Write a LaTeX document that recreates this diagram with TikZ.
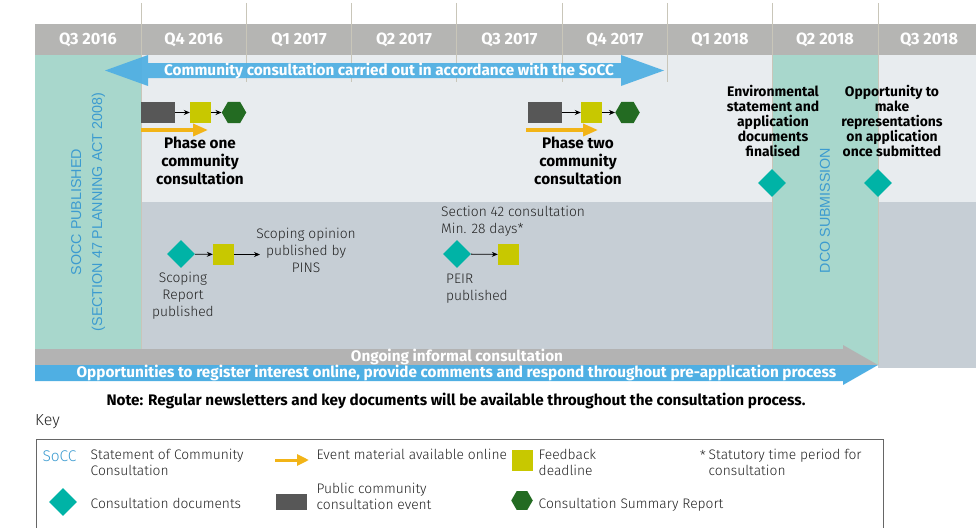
\documentclass[tikz,border=0pt]{standalone}
\usepackage{fontspec}
\setmainfont{Fira Sans}[UprightFont={* Light}, BoldFont={* Bold}]
\newfontfamily\rotfont{Liberation Sans}
\usetikzlibrary{shapes.geometric,arrows.meta}
\definecolor{hdr}{HTML}{B5B5B3}
\definecolor{topbg}{HTML}{E8ECEF}
\definecolor{lowbg}{HTML}{C6CED5}
\definecolor{tealbg}{HTML}{A8D7CC}
\definecolor{gridc}{HTML}{C9C6B9}
\definecolor{bluea}{HTML}{4FAFE3}
\definecolor{graya}{HTML}{B3B3B3}
\definecolor{evt}{HTML}{575757}
\definecolor{fbk}{HTML}{C8C800}
\definecolor{hexg}{HTML}{236B22}
\definecolor{diam}{HTML}{00B3A6}
\definecolor{yarr}{HTML}{F2B417}
\definecolor{rotblue}{HTML}{3C9BD0}
\definecolor{txt}{HTML}{222222}
\definecolor{keyb}{HTML}{666666}
\tikzset{
  hdrtxt/.style={text=white, font=\fontsize{16.3}{18}\selectfont\bfseries, inner sep=0},
  whitebold/.style={text=white, font=\fontsize{15.3}{16}\selectfont\bfseries, inner sep=0},
  boldtxt/.style={text=black, font=\fontsize{15.3}{18}\selectfont\bfseries, align=center, inner sep=0},
  boldtxtb/.style={text=black, font=\fontsize{13.9}{15.2}\selectfont\bfseries, align=center, inner sep=0},
  lighttxt/.style={text=txt, font=\fontsize{13.8}{17}\selectfont, inner sep=0},
  keytxt/.style={text=txt, font=\fontsize{13.8}{16.7}\selectfont, inner sep=0},
  rottxt/.style={text=rotblue, font=\rotfont\fontsize{14.3}{21}\selectfont, rotate=90, align=center, inner sep=0},
  evtbox/.style={fill=evt, minimum width=34, minimum height=21, inner sep=0},
  fbkbox/.style={fill=fbk, minimum width=21, minimum height=21, inner sep=0},
  hexnode/.style={regular polygon, regular polygon sides=6, fill=hexg, minimum size=24.5, inner sep=0},
  docnode/.style={diamond, fill=diam, minimum width=28, minimum height=28, inner sep=0},
  conn/.style={-{Stealth[length=6pt,width=5pt]}, line width=0.8pt, black},
  onlinearr/.style={-{Triangle[length=15pt,width=12pt]}, line width=3.5pt, yarr, shorten >=0pt},
  gridline/.style={gridc, line width=1pt},
}
\begin{document}
\begin{tikzpicture}[x=1pt,y=-1pt]
\useasboundingbox (0,0) rectangle (976,527);
% backgrounds
\fill[topbg] (141,55) rectangle (976,202);
\fill[lowbg] (141,202) rectangle (772,349);
\fill[lowbg] (878,202) rectangle (976,368);
\fill[tealbg] (35,55) rectangle (141,349);
\fill[tealbg] (772,55) rectangle (878,365);
\fill[hdr] (35,24) rectangle (976,55);
% grid lines
\foreach \gx in {141,246.3,351.6,456.9,562.2,667.5,772.8,878.1}
  \draw[gridline] (\gx,3) -- (\gx,82);
\draw[gridline] (141,55) -- (141,349);
\draw[gridline, line width=0.6pt] (772,55) -- (772,365);
\draw[gridline, line width=0.6pt] (878,55) -- (878,365);
% header labels
\foreach \cx/\lab in {88/Q3 2016, 193.6/Q4 2016, 299/Q1 2017, 404/Q2 2017, 509.5/Q3 2017, 615/Q4 2017, 720/Q1 2018, 825/Q2 2018, 929/Q3 2018}
  \node[hdrtxt] (h\cx) at (\cx,39.5) {\lab};
% top double arrow
\fill[bluea, opacity=0.93] (105,70.5) -- (148,55) -- (148,63) -- (621,63) -- (621,55) -- (664,70.5) -- (621,86) -- (621,78) -- (148,78) -- (148,86) -- cycle;
\node[whitebold] (socctxt) at (389,70.5) {Community consultation carried out in accordance with the SoCC};
% rotated labels
\node[rottxt] (soccpub) at (88,212) {SOCC PUBLISHED\\(SECTION 47 PLANNING ACT 2008)};
\node[rottxt] (dco) at (825,210.5) {DCO SUBMISSION};
% phase one
\node[evtbox] (e1) at (158,112.5) {};
\node[fbkbox] (f1) at (200.5,112.5) {};
\node[hexnode] (x1) at (234,112.5) {};
\draw[conn] (e1) -- (f1);
\draw[conn] (f1) -- (x1);
\coordinate (y1s) at (141,130);
\coordinate (y1e) at (208,130);
\draw[onlinearr] (y1s) -- (y1e);
\node[boldtxt] (p1) at (200,161) {Phase one\\community\\consultation};
% phase two
\node[evtbox] (e2) at (544.5,112.5) {};
\node[fbkbox] (f2) at (591.5,112.5) {};
\node[hexnode] (x2) at (627.5,112.5) {};
\draw[conn] (e2) -- (f2);
\draw[conn] (f2) -- (x2);
\coordinate (y2s) at (526,130);
\coordinate (y2e) at (598,130);
\draw[onlinearr] (y2s) -- (y2e);
\node[boldtxt] (p2) at (578,161) {Phase two\\community\\consultation};
% environmental statement / opportunity
\node[boldtxtb] (env) at (773,121) {Environmental\\statement and\\application\\documents\\finalised};
\node[boldtxtb] (opp) at (892,121) {Opportunity to\\make\\representations\\on application\\once submitted};
\node[docnode] (d3) at (772,183) {};
\node[docnode] (d4) at (878,183) {};
% scoping
\node[docnode] (d1) at (181,254) {};
\node[fbkbox] (f3) at (223.5,254.5) {};
\coordinate (sc) at (260,254.5);
\draw[conn] (d1) -- (f3);
\draw[conn] (f3) -- (sc);
\node[lighttxt, align=center] (sop) at (306,250) {Scoping opinion\\published by\\PINS};
\node[lighttxt, align=center] (srp) at (183,296) {Scoping\\Report\\published};
% section 42
\node[lighttxt, align=left, anchor=west] (s42) at (441,221) {Section 42 consultation\\Min. 28 days*};
\node[docnode] (d2) at (457,254) {};
\node[fbkbox] (f4) at (508.5,254.5) {};
\draw[conn] (d2) -- (f4);
\node[lighttxt, align=left, anchor=west] (peir) at (446,289) {PEIR\\published};
% bottom arrows
\fill[graya] (35,349) -- (843,349) -- (843,345) -- (878,365) -- (35,365) -- cycle;
\fill[bluea] (35,365) -- (878,365) -- (843,385) -- (843,381) -- (35,381) -- cycle;
\node[whitebold] (ongo) at (457,356.5) {Ongoing informal consultation};
\node[whitebold] (opps) at (456.5,373) {Opportunities to register interest online, provide comments and respond throughout pre-application process};
% note
\node[boldtxt] (note) at (456,401) {Note: Regular newsletters and key documents will be available throughout the consultation process.};
% key
\node[keytxt, anchor=west, font=\fontsize{16}{18}\selectfont] (keyt) at (35,422) {Key};
\draw[keyb, line width=0.8pt] (36,539) -- (36,439) -- (883,439) -- (883,539);
\node[text=rotblue, font=\fontsize{15.5}{17}\selectfont, inner sep=0] (ksocc) at (59.5,456.5) {SoCC};
\node[keytxt, align=left, anchor=west] (kst) at (90.5,462.5) {Statement of Community\\Consultation};
\node[docnode] (kd) at (63,502) {};
\node[keytxt, anchor=west] (kdt) at (90.5,503) {Consultation documents};
\coordinate (kys) at (275,460);
\coordinate (kye) at (309,460);
\draw[onlinearr, line width=3pt, -{Triangle[length=12pt,width=11pt]}] (kys) -- (kye);
\node[keytxt, anchor=west] (kyt) at (316.5,454) {Event material available online};
\node[evtbox, minimum width=31, minimum height=16.5] (ke) at (291.5,502) {};
\node[keytxt, align=left, anchor=west] (ket) at (316.5,496.5) {Public community\\consultation event};
\node[fbkbox] (kf) at (522.5,460.5) {};
\node[keytxt, align=left, anchor=west] (kft) at (538.5,462.5) {Feedback\\deadline};
\node[hexnode, minimum size=21.5] (kh) at (522,500.5) {};
\node[keytxt, anchor=west] (kht) at (538.5,505) {Consultation Summary Report};
\node[keytxt, anchor=east] (kstar) at (706,455.5) {*};
\node[keytxt, align=left, anchor=west] (kstt) at (708.5,462.5) {Statutory time period for\\consultation};
\end{tikzpicture}
\end{document}
